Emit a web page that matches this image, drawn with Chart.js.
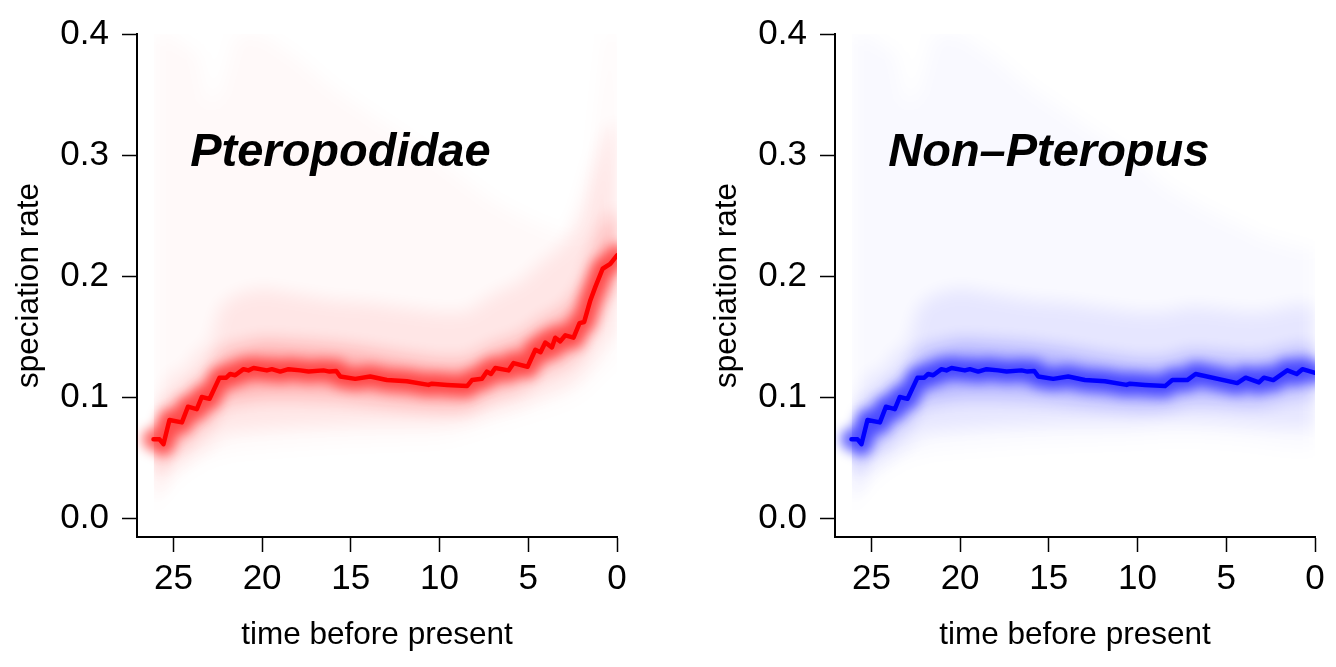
<!DOCTYPE html>
<html>
<head>
<meta charset="utf-8">
<script src="https://cdn.jsdelivr.net/npm/chart.js@4.4.1/dist/chart.umd.min.js"></script>
<style>
  body { margin: 0; background: #fff; }
  canvas { position: absolute; top: 0; }
  #painelA { left: 0; }
  #painelB { left: 698px; }
</style>
</head>
<body>
<canvas id="painelA" width="638" height="667"></canvas>
<canvas id="painelB" width="638" height="667"></canvas>
<script>
// tick labels
const xTicks = [25, 20, 15, 10, 5, 0]
const yTicks = [0.0, 0.1, 0.2, 0.3, 0.4]

const panelNames = ["Pteropodidae", "Non\u2013Pteropus"]

// mean speciation rate (time before present -> rate)
const redTime = [26.12, 25.78, 25.56, 25.22, 24.52, 24.18, 23.68, 23.40, 22.96, 22.40, 22.02, 21.80, 21.52, 21.05, 20.77, 20.48, 19.73, 19.45, 18.98, 18.51, 17.85, 17.38, 16.54, 16.20, 15.82, 15.60, 14.75, 13.91, 12.97, 11.84, 10.62, 10.43, 9.58, 8.45, 8.17, 7.61, 7.33, 7.10, 6.86, 6.11, 5.83, 5.04, 4.60, 4.31, 4.04, 3.67, 3.48, 3.20, 2.91, 2.45, 2.11, 1.85, 1.50, 1.22, 0.81, 0.38, 0]
const redRate = [0.065, 0.065, 0.061, 0.081, 0.079, 0.092, 0.090, 0.100, 0.0985, 0.116, 0.116, 0.119, 0.118, 0.123, 0.122, 0.124, 0.122, 0.123, 0.121, 0.123, 0.122, 0.121, 0.122, 0.121, 0.1215, 0.117, 0.115, 0.117, 0.114, 0.113, 0.110, 0.111, 0.110, 0.109, 0.114, 0.115, 0.121, 0.119, 0.124, 0.122, 0.128, 0.125, 0.139, 0.137, 0.145, 0.141, 0.149, 0.146, 0.151, 0.149, 0.161, 0.162, 0.180, 0.191, 0.206, 0.210, 0.217]

const blueTime = [26.12, 25.78, 25.56, 25.22, 24.52, 24.18, 23.68, 23.40, 22.96, 22.40, 22.02, 21.80, 21.52, 21.05, 20.77, 20.48, 19.73, 19.45, 18.98, 18.51, 17.85, 17.38, 16.54, 16.20, 15.82, 15.60, 14.75, 13.91, 12.97, 11.84, 10.62, 10.43, 9.58, 8.45, 8.04, 7.20, 6.73, 4.38, 3.91, 3.16, 2.88, 2.35, 1.56, 1.03, 0.71, 0]
const blueRate = [0.065, 0.065, 0.061, 0.081, 0.079, 0.092, 0.090, 0.100, 0.0985, 0.116, 0.116, 0.119, 0.118, 0.123, 0.122, 0.124, 0.122, 0.123, 0.121, 0.123, 0.122, 0.121, 0.122, 0.121, 0.1215, 0.117, 0.115, 0.117, 0.114, 0.113, 0.110, 0.111, 0.110, 0.109, 0.114, 0.114, 0.119, 0.1115, 0.116, 0.112, 0.116, 0.114, 0.122, 0.119, 0.123, 0.120]

// density shading, read as envelopes at a few times
const bandTime = [26.1, 25.6, 25.2, 24.4, 23.6, 23.0, 22.4, 21.5, 20, 18, 16, 14, 12, 10, 8.5, 7, 5.5, 4, 3, 2, 1.3, 0.6, 0]

const redOuterHi = [0.40, 0.40, 0.40, 0.39, 0.385, 0.34, 0.35, 0.40, 0.40, 0.38, 0.355, 0.335, 0.315, 0.295, 0.278, 0.262, 0.25, 0.24, 0.235, 0.232, 0.30, 0.40, 0.40]
const redOuterLo = [0.005, 0.02, 0.028, 0.038, 0.046, 0.05, 0.053, 0.056, 0.058, 0.060, 0.062, 0.063, 0.064, 0.065, 0.07, 0.078, 0.085, 0.092, 0.097, 0.105, 0.115, 0.125, 0.135]
const redWideHi = [0.10, 0.10, 0.12, 0.12, 0.14, 0.14, 0.175, 0.185, 0.19, 0.185, 0.18, 0.178, 0.174, 0.17, 0.17, 0.185, 0.195, 0.215, 0.225, 0.255, 0.29, 0.32, 0.33]
const redWideLo = [0.015, 0.025, 0.04, 0.045, 0.055, 0.058, 0.07, 0.072, 0.074, 0.076, 0.077, 0.078, 0.078, 0.078, 0.08, 0.088, 0.093, 0.103, 0.108, 0.118, 0.133, 0.148, 0.153]
const redMidHi = [0.08, 0.08, 0.098, 0.098, 0.115, 0.115, 0.138, 0.142, 0.147, 0.145, 0.143, 0.139, 0.134, 0.13, 0.13, 0.142, 0.149, 0.165, 0.172, 0.19, 0.22, 0.245, 0.255]
const redMidLo = [0.04, 0.042, 0.06, 0.06, 0.076, 0.077, 0.094, 0.097, 0.1, 0.1, 0.099, 0.096, 0.093, 0.091, 0.091, 0.102, 0.108, 0.123, 0.128, 0.141, 0.163, 0.181, 0.188]

const blueOuterHi = [0.40, 0.40, 0.40, 0.39, 0.385, 0.34, 0.35, 0.40, 0.40, 0.38, 0.355, 0.335, 0.315, 0.295, 0.275, 0.262, 0.25, 0.24, 0.232, 0.228, 0.225, 0.222, 0.222]
const blueOuterLo = [0.005, 0.02, 0.028, 0.038, 0.046, 0.05, 0.053, 0.056, 0.058, 0.060, 0.062, 0.063, 0.064, 0.065, 0.067, 0.067, 0.066, 0.064, 0.062, 0.06, 0.059, 0.058, 0.058]
const blueWideHi = [0.10, 0.10, 0.12, 0.12, 0.14, 0.14, 0.175, 0.185, 0.19, 0.185, 0.18, 0.178, 0.174, 0.17, 0.17, 0.175, 0.173, 0.17, 0.17, 0.173, 0.176, 0.176, 0.176]
const blueWideLo = [0.015, 0.025, 0.04, 0.045, 0.055, 0.058, 0.07, 0.072, 0.074, 0.076, 0.077, 0.078, 0.078, 0.078, 0.08, 0.08, 0.079, 0.077, 0.076, 0.075, 0.075, 0.075, 0.075]
const blueMidHi = [0.08, 0.08, 0.098, 0.098, 0.115, 0.115, 0.138, 0.142, 0.147, 0.145, 0.143, 0.139, 0.134, 0.13, 0.13, 0.137, 0.135, 0.133, 0.133, 0.137, 0.14, 0.141, 0.14]
const blueMidLo = [0.04, 0.042, 0.06, 0.06, 0.076, 0.077, 0.094, 0.097, 0.1, 0.1, 0.099, 0.096, 0.093, 0.091, 0.091, 0.097, 0.096, 0.094, 0.094, 0.098, 0.101, 0.102, 0.1]

const FONTE = '"Liberation Sans", Arial, Helvetica, sans-serif'

function pontos(xs, ys) {
  return xs.map((x, i) => ({x: x, y: ys[i]}))
}

function faixa(hi, lo, rgb, alpha) {
  const base = {borderColor: 'rgba(0,0,0,0)', borderWidth: 0, pointRadius: 0}
  return [
    {...base, data: pontos(bandTime, hi), fill: '+1', backgroundColor: `rgba(${rgb},${alpha})`},
    {...base, data: pontos(bandTime, lo), fill: false}
  ]
}

// softens the shading; the mean line (dataset 0) is drawn sharp
const suavizar = {
  id: 'suavizar',
  beforeDatasetsDraw(chart) { chart.ctx.filter = 'blur(9px)' },
  beforeDatasetDraw(chart, args) {
    if (args.index === 1) chart.ctx.filter = 'blur(6px)'
    if (args.index === 0) chart.ctx.filter = 'none'
  },
  afterDatasetsDraw(chart) { chart.ctx.filter = 'none' }
}

// italic panel name
const rotulo = {
  id: 'rotulo',
  afterDraw(chart, args, opts) {
    const {ctx, scales} = chart
    ctx.save()
    ctx.font = 'italic bold 47px ' + FONTE
    ctx.fillStyle = '#000'
    ctx.textBaseline = 'alphabetic'
    ctx.textAlign = 'left'
    ctx.fillText(opts.text, scales.x.getPixelForValue(24.05), scales.y.getPixelForValue(0.291))
    ctx.restore()
  }
}

function desenharPainel(canvasId, nome, tempos, taxas, rgb, bandas) {
  const cor = `rgb(${rgb})`
  const datasets = [
    {data: pontos(tempos, taxas), borderColor: cor, borderWidth: 4.5, pointRadius: 0, fill: false},
    {data: pontos(tempos, taxas), borderColor: `rgba(${rgb},0.6)`, borderWidth: 22, pointRadius: 0, fill: false},
    ...faixa(bandas[0], bandas[1], rgb, 0.025),
    ...faixa(bandas[2], bandas[3], rgb, 0.08),
    ...faixa(bandas[4], bandas[5], rgb, 0.22)
  ]

  new Chart(document.getElementById(canvasId), {
    type: 'line',
    data: {datasets: datasets},
    plugins: [suavizar, rotulo],
    options: {
      responsive: false,
      animation: false,
      devicePixelRatio: 1,
      layout: {padding: {top: 26, right: 21, left: 0, bottom: 0}},
      elements: {line: {tension: 0, borderCapStyle: 'round', borderJoinStyle: 'round'}},
      plugins: {
        legend: {display: false},
        tooltip: {enabled: false},
        rotulo: {text: nome}
      },
      scales: {
        x: {
          type: 'linear',
          reverse: true,
          min: 0,
          max: 27.05,
          afterBuildTicks: s => { s.ticks = xTicks.map(v => ({value: v})) },
          afterFit: s => { s.height = 130 },
          grid: {drawOnChartArea: false, drawTicks: true, tickLength: 15, tickWidth: 1.5, tickColor: '#000'},
          border: {display: true, color: '#000', width: 2},
          ticks: {color: '#000', font: {family: FONTE, size: 35}, padding: 6, maxRotation: 0, autoSkip: false,
                  callback: v => String(v)},
          title: {display: true, text: 'time before present', color: '#000',
                  font: {family: FONTE, size: 31.5}, padding: {top: 0, bottom: 13}}
        },
        y: {
          type: 'linear',
          min: -0.0157,
          max: 0.4,
          afterBuildTicks: s => { s.ticks = yTicks.map(v => ({value: v})) },
          afterFit: s => { s.width = 137 },
          grid: {drawOnChartArea: false, drawTicks: true, tickLength: 15, tickWidth: 1.5, tickColor: '#000'},
          border: {display: true, color: '#000', width: 2},
          ticks: {color: '#000', font: {family: FONTE, size: 35}, padding: 13,
                  callback: v => v.toFixed(1)},
          title: {display: true, text: 'speciation rate', color: '#000',
                  font: {family: FONTE, size: 31.5}, padding: {top: 10, bottom: 0}}
        }
      }
    }
  })
}

desenharPainel('painelA', panelNames[0], redTime, redRate, '255,0,0',
  [redOuterHi, redOuterLo, redWideHi, redWideLo, redMidHi, redMidLo])
desenharPainel('painelB', panelNames[1], blueTime, blueRate, '0,0,255',
  [blueOuterHi, blueOuterLo, blueWideHi, blueWideLo, blueMidHi, blueMidLo])
</script>
</body>
</html>
